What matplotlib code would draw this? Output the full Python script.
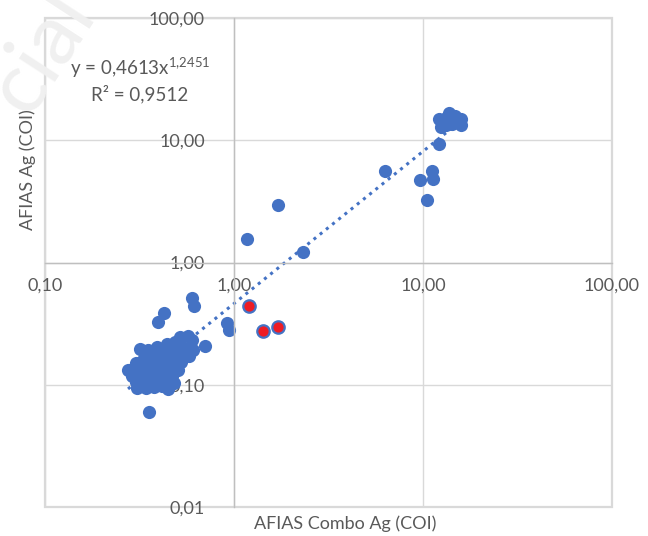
import matplotlib
matplotlib.use("Agg")
import matplotlib.pyplot as plt
import numpy as np
from matplotlib.patches import Rectangle
from matplotlib.ticker import FixedLocator, FixedFormatter, NullLocator

plt.rcParams['font.family'] = ['Lato', 'DejaVu Sans']
plt.rcParams['mathtext.fontset'] = 'custom'
plt.rcParams['mathtext.rm'] = 'Lato'

# ---- data (COI values) ----
combo_x = [
    0.518, 0.571,
    0.392, 0.442, 0.488, 0.600,
    0.318, 0.351, 0.387, 0.426, 0.470, 0.518, 0.571, 0.607,
    0.334, 0.368, 0.406, 0.448, 0.493, 0.544, 0.578,
    0.303, 0.330, 0.360, 0.396, 0.437, 0.482, 0.525,
    0.275, 0.296, 0.326, 0.360, 0.396, 0.437, 0.482, 0.506,
    0.288, 0.318, 0.351, 0.387, 0.426, 0.470,
    0.303, 0.334, 0.368, 0.406, 0.448, 0.482,
    0.307, 0.342, 0.377, 0.416, 0.448,
    0.355, 0.427, 0.396, 0.600, 0.614, 0.703, 0.918, 0.940,
    1.17, 1.71, 2.32,
    6.3, 9.64, 11.2, 11.3, 10.5, 12.2,
    12.2, 12.4, 13.2, 13.7, 14.8, 15.9, 15.9, 14.2, 13.2, 14.9,
]
afias_y = [
    0.246, 0.251,
    0.204, 0.216, 0.224, 0.233,
    0.197, 0.193, 0.193, 0.193, 0.197, 0.200, 0.200, 0.193,
    0.166, 0.169, 0.169, 0.172, 0.175, 0.172, 0.172,
    0.151, 0.148, 0.154, 0.154, 0.154, 0.154, 0.154,
    0.132, 0.138, 0.135, 0.138, 0.138, 0.140, 0.138, 0.132,
    0.118, 0.121, 0.121, 0.123, 0.121, 0.118,
    0.106, 0.108, 0.108, 0.108, 0.110, 0.104,
    0.094, 0.094, 0.096, 0.098, 0.0925,
    0.060, 0.387, 0.327, 0.514, 0.442, 0.208, 0.321, 0.281,
    1.56, 2.96, 1.22,
    5.6, 4.73, 5.61, 4.83, 3.25, 9.33,
    14.9, 12.8, 15.2, 16.7, 15.8, 14.9, 13.3, 13.6, 13.3, 14.4,
]
red_x = [1.20, 1.42, 1.71]
red_y = [0.44, 0.276, 0.297]

fit_a = 0.4613
fit_b = 1.2451
eq_label = r'y = 0,4613x$^{\mathregular{1{,}2451}}$'
r2_label = 'R² = 0,9512'

x_ticks = [0.1, 1, 10, 100]
x_ticklabels = ['0,10', '1,00', '10,00', '100,00']
y_ticks = [0.01, 0.1, 1, 10, 100]
y_ticklabels = ['0,01', '0,10', '1,00', '10,00', '100,00']
x_title = 'AFIAS Combo Ag (COI)'
y_title = 'AFIAS Ag (COI)'

# ---- figure ----
W, H = 648, 536
fig = plt.figure(figsize=(W / 100, H / 100), dpi=100)
fig.text(42 / W, 1 - 52 / H, 'cial', rotation=57, fontsize=62, color='#F0F0F0',
         ha='center', va='center', zorder=0)

ax = fig.add_axes([45 / W, (H - 507) / H, (612 - 45) / W, (507 - 18) / H])
ax.patch.set_alpha(0)
ax.set_xscale('log')
ax.set_yscale('log')
ax.set_xlim(0.1, 100)
ax.set_ylim(0.01, 100)

grid_c = '#D9D9D9'
axis_c = '#BFBFBF'
text_c = '#595959'
blue = '#4472C4'

for v in x_ticks:
    ax.axvline(v, color=grid_c, lw=1.0, zorder=0.5)
for v in y_ticks:
    ax.axhline(v, color=grid_c, lw=1.0, zorder=0.5)
ax.add_patch(Rectangle((0, 0), 1, 1, transform=ax.transAxes, fill=False,
                       edgecolor=grid_c, lw=1.6, clip_on=False, zorder=0.6))

for s in ['top', 'right']:
    ax.spines[s].set_visible(False)
ax.spines['left'].set_position(('data', 1))
ax.spines['bottom'].set_position(('data', 1))
ax.spines['left'].set_color(axis_c)
ax.spines['bottom'].set_color(axis_c)
ax.spines['left'].set_linewidth(1.0)
ax.spines['bottom'].set_linewidth(1.0)

ax.xaxis.set_major_locator(FixedLocator(x_ticks))
ax.xaxis.set_major_formatter(FixedFormatter(x_ticklabels))
ax.yaxis.set_major_locator(FixedLocator(y_ticks))
ax.yaxis.set_major_formatter(FixedFormatter(y_ticklabels))
ax.xaxis.set_minor_locator(NullLocator())
ax.yaxis.set_minor_locator(NullLocator())
ax.tick_params(axis='x', length=0, pad=11, labelsize=13, labelcolor=text_c)
ax.tick_params(axis='y', length=0, pad=21, labelsize=13, labelcolor=text_c)
for lab in ax.get_xticklabels() + ax.get_yticklabels():
    lab.set_clip_on(False)

# trend line
xs = np.logspace(np.log10(min(combo_x)), np.log10(max(combo_x)), 200)
ax.plot(xs, fit_a * xs ** fit_b, color=blue, lw=2.2, linestyle=(0, (1, 1.6)),
        zorder=1.5)

ax.scatter(combo_x, afias_y, s=90, color=blue, edgecolors=blue,
           linewidths=0.0, zorder=2)
ax.scatter(red_x, red_y, s=80, color='#EE1C24', edgecolors=blue,
           linewidths=1.6, zorder=2.1)

fig.text(140 / W, 1 - 68 / H, eq_label, fontsize=13.5, color=text_c,
         ha='center', va='center')
fig.text(140 / W, 1 - 94 / H, r2_label, fontsize=13.5, color=text_c,
         ha='center', va='center')

fig.text(28 / W, 1 - 170 / H, y_title, rotation=90, fontsize=13, color=text_c,
         ha='center', va='center')
fig.text(345 / W, 1 - 524 / H, x_title, fontsize=13, color=text_c,
         ha='center', va='center')

fig.savefig('out.png', dpi=100)
